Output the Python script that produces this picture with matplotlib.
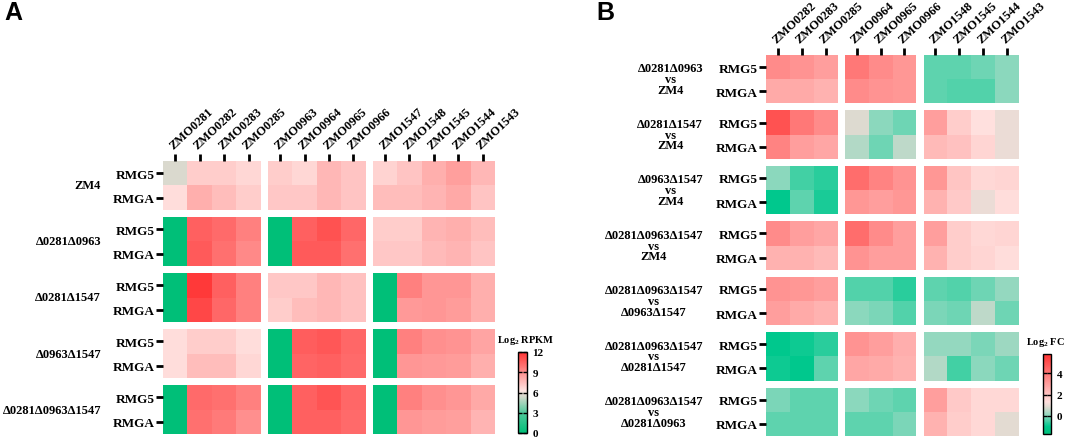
import matplotlib
matplotlib.use("Agg")
import matplotlib.pyplot as plt
import numpy as np
from matplotlib.colors import LinearSegmentedColormap, Normalize
from matplotlib.cm import ScalarMappable
from matplotlib.transforms import blended_transform_factory

plt.rcParams['font.family'] = ['Liberation Serif', 'DejaVu Serif']
plt.rcParams['mathtext.fontset'] = 'custom'
plt.rcParams['mathtext.rm'] = 'Liberation Serif'
plt.rcParams['mathtext.bf'] = 'Liberation Serif:bold'

# ---------------- data ----------------
rows = ["RMG5", "RMGA"]

a_groups = ["ZM4", "\u03940281\u03940963", "\u03940281\u03941547",
            "\u03940963\u03941547", "\u03940281\u03940963\u03941547"]
a_blocks = [["ZMO0281", "ZMO0282", "ZMO0283", "ZMO0285"],
            ["ZMO0963", "ZMO0964", "ZMO0965", "ZMO0966"],
            ["ZMO1547", "ZMO1548", "ZMO1545", "ZMO1544", "ZMO1543"]]
# log2 RPKM, per group: [RMG5 row, RMGA row] for each block
a_blk1 = [[[5.5, 7.0, 7.0, 6.7], [6.5, 8.0, 7.5, 7.0]],
          [[0.0, 10.5, 10.2, 9.5], [0.0, 10.7, 10.0, 9.2]],
          [[0.0, 11.8, 10.5, 9.5], [0.0, 11.3, 10.3, 9.5]],
          [[6.5, 7.0, 7.0, 6.5], [6.5, 7.5, 7.5, 6.7]],
          [[0.0, 10.2, 10.0, 9.5], [0.0, 10.0, 9.7, 9.0]]]
a_blk2 = [[[7.0, 6.7, 7.7, 7.3], [7.2, 7.2, 7.7, 7.3]],
          [[0.0, 10.5, 11.0, 10.3], [0.0, 10.7, 10.7, 10.0]],
          [[7.2, 7.2, 7.7, 7.4], [7.0, 7.5, 7.7, 7.4]],
          [[0.0, 10.6, 10.8, 10.3], [0.0, 10.4, 10.5, 10.2]],
          [[0.0, 10.5, 10.9, 10.3], [0.0, 10.5, 10.5, 10.2]]]
a_blk3 = [[[6.8, 7.3, 8.0, 8.5, 7.7], [7.5, 7.5, 7.8, 8.2, 7.3]],
          [[7.0, 7.0, 7.8, 8.0, 7.5], [7.2, 7.2, 7.6, 7.8, 7.3]],
          [[0.0, 9.5, 8.8, 8.8, 8.0], [0.0, 8.7, 8.8, 8.6, 8.0]],
          [[0.0, 9.5, 9.0, 8.9, 8.3], [0.0, 8.8, 8.7, 8.6, 8.0]],
          [[0.0, 9.5, 9.0, 8.8, 8.2], [0.0, 8.8, 8.6, 8.5, 7.8]]]

b_groups = ["\u03940281\u03940963\nvs\nZM4",
            "\u03940281\u03941547\nvs\nZM4",
            "\u03940963\u03941547\nvs\nZM4",
            "\u03940281\u03940963\u03941547\nvs\nZM4",
            "\u03940281\u03940963\u03941547\nvs\n\u03940963\u03941547",
            "\u03940281\u03940963\u03941547\nvs\n\u03940281\u03941547",
            "\u03940281\u03940963\u03941547\nvs\n\u03940281\u03940963"]
b_blocks = [["ZMO0282", "ZMO0283", "ZMO0285"],
            ["ZMO0964", "ZMO0965", "ZMO0966"],
            ["ZMO1548", "ZMO1545", "ZMO1544", "ZMO1543"]]
# log2 fold change
b_blk1 = [[[3.5, 3.3, 3.0], [2.7, 2.7, 2.5]],
          [[5.0, 4.0, 3.5], [3.7, 3.0, 2.8]],
          [[0.0, -0.5, -0.7], [-1.0, -0.3, -0.8]],
          [[3.5, 3.0, 2.8], [2.5, 2.5, 2.3]],
          [[3.3, 3.2, 3.0], [3.0, 2.7, 2.5]],
          [[-1.0, -0.9, -0.7], [-0.9, -1.0, -0.3]],
          [[-0.1, -0.3, -0.3], [-0.3, -0.3, -0.3]]]
b_blk2 = [[[4.0, 3.5, 3.2], [3.5, 3.3, 3.2]],
          [[0.8, 0.0, -0.2], [0.4, -0.2, 0.5]],
          [[4.3, 3.7, 3.3], [3.2, 3.0, 3.2]],
          [[4.3, 3.5, 3.0], [3.3, 3.0, 3.0]],
          [[-0.4, -0.4, -0.7], [0.0, -0.1, -0.4]],
          [[3.3, 3.0, 2.6], [2.8, 2.7, 2.5]],
          [[0.0, -0.2, -0.3], [-0.3, -0.3, -0.1]]]
b_blk3 = [[[-0.3, -0.3, -0.2, 0.0], [-0.3, -0.4, -0.4, 0.0]],
          [[3.0, 1.8, 1.3, 1.0], [2.3, 2.1, 1.6, 1.0]],
          [[3.2, 2.0, 1.5, 1.6], [2.5, 1.9, 1.0, 1.4]],
          [[3.0, 1.8, 1.5, 1.6], [2.5, 1.8, 1.6, 1.4]],
          [[-0.3, -0.4, -0.2, 0.1], [-0.1, -0.2, 0.5, -0.2]],
          [[0.1, 0.1, -0.1, 0.2], [0.4, -0.5, 0.0, -0.2]],
          [[3.0, 1.9, 1.5, 1.5], [2.5, 1.8, 1.5, 0.9]]]

W, H = 1065, 439
fig = plt.figure(figsize=(W / 100, H / 100), dpi=100)


def px_axes(x0, y0, x1, y1):
    return fig.add_axes([x0 / W, 1 - y1 / H, (x1 - x0) / W, (y1 - y0) / H])


def make_cmap(nodes, vmin, vmax):
    pos = [(v - vmin) / (vmax - vmin) for v, c in nodes]
    return LinearSegmentedColormap.from_list("c", list(zip(pos, [c for v, c in nodes])))


def draw_panel(ax, blocks, data, groups, cmap, norm, gap, glabel_x):
    xt, xl = [], []
    x0 = 0
    starts = []
    for bi, cols in enumerate(blocks):
        starts.append(x0)
        xt += list(x0 + np.arange(len(cols)) + 0.5)
        xl += cols
        x0 += len(cols) + gap
    yt, yl = [], []
    tr = blended_transform_factory(fig.transFigure, ax.transData)
    for gi, g in enumerate(groups):
        y0 = gi * (2 + gap)
        for bi, cols in enumerate(blocks):
            vals = np.array(data[bi][gi])
            xe = starts[bi] + np.arange(len(cols) + 1)
            ye = y0 + np.arange(3)
            ax.pcolormesh(xe, ye, vals, cmap=cmap, norm=norm,
                          edgecolors='none', antialiased=False)
        yt += [y0 + 0.5, y0 + 1.5]
        yl += rows
        ax.text(glabel_x / W, y0 + 1, g, transform=tr, ha='right', va='center',
                multialignment='center', fontsize=9, fontweight='bold',
                linespacing=0.85)
    ax.set_xlim(0, x0 - gap)
    ax.set_ylim(len(groups) * (2 + gap) - gap, 0)
    ax.set_xticks(xt)
    ax.set_xticklabels(xl, rotation=43, ha='left', rotation_mode='anchor',
                       fontsize=9, fontweight='bold')
    ax.set_yticks(yt)
    ax.set_yticklabels(yl, fontsize=9.5, fontweight='bold')
    ax.xaxis.tick_top()
    ax.tick_params(axis='x', length=5, width=2, pad=2)
    ax.tick_params(axis='y', length=5, width=2, pad=1)
    for s in ax.spines.values():
        s.set_visible(False)


def draw_cbar(x0, y0, x1, y1, cmap, norm, ticks, title, tx, ty):
    cax = px_axes(x0, y0, x1, y1)
    cb = fig.colorbar(ScalarMappable(norm=norm, cmap=cmap), cax=cax, ticks=ticks)
    cb.outline.set_linewidth(1)
    cax.tick_params(direction='in', left=True, right=True, length=3, width=1,
                    labelsize=8, pad=4)
    for t in cax.get_yticklabels():
        t.set_fontweight('bold')
    fig.text(tx / W, 1 - ty / H, title, ha='center', va='center',
             fontsize=7.5, fontweight='bold')


# ---------------- panel A ----------------
a_norm = Normalize(0, 12)
a_cmap = make_cmap([(0, "#00bf78"), (3, "#52c99c"), (5.5, "#dad9ce"),
                    (6.3, "#ffe3e1"), (12, "#ff3333")], 0, 12)
axA = px_axes(163, 162, 495, 435)
draw_panel(axA, a_blocks, [a_blk1, a_blk2, a_blk3], a_groups, a_cmap, a_norm,
           0.29, 101)
draw_cbar(518, 353, 527, 434, a_cmap, a_norm, [0, 3, 6, 9, 12],
          r"Log$_\mathbf{2}$ RPKM", 526, 341)
fig.text(4 / W, 1 - 1 / H, "A", ha='left', va='top', fontsize=18,
         fontweight='bold', family='Liberation Sans')

# ---------------- panel B ----------------
b_norm = Normalize(-1.7, 5.8)
b_cmap = make_cmap([(-1.7, "#00bf78"), (-1.0, "#00c88e"), (0.0, "#8ad8bd"),
                    (0.8, "#dddad0"), (1.3, "#ffe0de"), (5.8, "#ff3333")], -1.7, 5.8)
axB = px_axes(766, 56, 1019, 437)
draw_panel(axB, b_blocks, [b_blk1, b_blk2, b_blk3], b_groups, b_cmap, b_norm,
           0.3, 703)
draw_cbar(1043, 355, 1051, 435, b_cmap, b_norm, [0, 2, 4],
          r"Log$_\mathbf{2}$ FC", 1045, 343)
fig.text(596 / W, 1 - 1 / H, "B", ha='left', va='top', fontsize=18,
         fontweight='bold', family='Liberation Sans')

fig.savefig("out.png", dpi=100)
